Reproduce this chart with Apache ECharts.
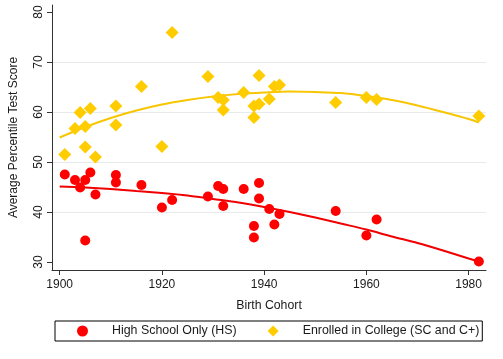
<!DOCTYPE html>
<html>
<head>
<meta charset="utf-8">
<script src="https://cdn.jsdelivr.net/npm/echarts@6/dist/echarts.min.js"></script>
<style>html,body{margin:0;padding:0;background:#fff}#c{width:503px;height:359px}</style>
</head>
<body>
<div id="c"></div>
<script>
var cohortYears = [1901,1903,1904,1905,1905,1906,1907,1911,1911,1916,1920,1922,1929,1931,1932,1932,1936,1938,1938,1939,1939,1941,1942,1943,1954,1960,1962,1982];
var hsScores = [47.5,46.4,44.9,46.4,34.3,47.9,43.5,47.4,45.9,45.4,40.9,42.4,43.1,45.2,44.6,41.2,44.6,37.2,34.9,45.8,42.7,40.6,37.5,39.6,40.2,35.3,38.5,30.1];
var collegeScores = [51.5,56.7,59.9,57.1,53.0,60.7,51.0,61.2,57.4,65.1,53.1,75.9,67.1,62.9,62.4,60.4,63.9,61.2,58.9,67.3,61.6,62.6,65.1,65.4,61.9,62.9,62.5,59.2];
var fitYears = [1900,1905,1910,1915,1920,1925,1930,1935,1940,1945,1950,1955,1960,1965,1970,1975,1980,1982];
var hsFit = [45.1,44.9,44.6,44.2,43.8,43.3,42.6,41.9,41.0,40.0,38.9,37.7,36.5,35.1,33.8,32.3,30.7,30.1];
var collegeFit = [54.9,57.0,58.8,60.3,61.5,62.4,63.1,63.6,63.9,64.1,64.0,63.8,63.2,62.4,61.3,60.0,58.6,57.9];
var xTicks = [1900,1920,1940,1960,1980];
var yTicks = [30,40,50,60,70,80];
var hsName = 'High School Only (HS)';
var collegeName = 'Enrolled in College (SC and C+)';

function pairs(xs, ys){ return xs.map(function(x,i){ return [x, ys[i]]; }); }

var font = 'Liberation Sans, Arial, sans-serif';
var chart = echarts.init(document.getElementById('c'), null, {renderer:'canvas'});
chart.setOption({
  animation: false,
  textStyle: {fontFamily: font, color: '#1a1a1a'},
  grid: {left: 52, right: 17, top: 5, bottom: 89, containLabel: false},
  xAxis: {
    type: 'value', min: 1898.5, max: 1983.4, minInterval: 20, maxInterval: 20,
    name: 'Birth Cohort', nameLocation: 'middle', nameGap: 30,
    nameTextStyle: {fontFamily: font, fontSize: 12.3, color: '#1a1a1a'},
    axisLine: {show: true, onZero: false, lineStyle: {color: '#333', width: 1}},
    axisTick: {show: true, length: 5, customValues: xTicks, lineStyle: {color: '#333'}},
    axisLabel: {customValues: xTicks, formatter: function(v){ return String(v); },
                fontFamily: font, fontSize: 12, color: '#1a1a1a', margin: 9},
    splitLine: {show: false}
  },
  yAxis: {
    type: 'value', min: 28.4, max: 81.4, minInterval: 10, maxInterval: 10,
    name: 'Average Percentile Test Score', nameLocation: 'middle', nameGap: 32,
    nameTextStyle: {fontFamily: font, fontSize: 12, color: '#1a1a1a'},
    axisLine: {show: true, onZero: false, lineStyle: {color: '#333', width: 1}},
    axisTick: {show: true, length: 5, customValues: yTicks, lineStyle: {color: '#333'}},
    axisLabel: {customValues: yTicks, formatter: function(v){ return String(v); }, rotate: 90,
                fontFamily: font, fontSize: 12, color: '#1a1a1a', margin: 7},
    splitLine: {show: true, showMinLine: false, showMaxLine: false, lineStyle: {color: '#e6eaea', width: 1}}
  },
  legend: {
    data: [hsName, collegeName],
    left: 55, top: 321,
    orient: 'horizontal',
    itemWidth: 11, itemHeight: 11, itemGap: 31,
    padding: [4, 3, 4, 22],
    borderColor: '#000', borderWidth: 1, borderRadius: 0,
    textStyle: {fontFamily: font, fontSize: 12.4, color: '#1a1a1a', padding: [0, 0, 0, 19]}
  },
  series: [
    {type: 'line', name: 'hsFit', data: pairs(fitYears, hsFit), smooth: 0.3, showSymbol: false, symbol: 'none',
     lineStyle: {color: '#f00000', width: 2}, z: 2, silent: true},
    {type: 'line', name: 'collegeFit', data: pairs(fitYears, collegeFit), smooth: 0.3, showSymbol: false, symbol: 'none',
     lineStyle: {color: '#f7c600', width: 2}, z: 2, silent: true},
    {type: 'scatter', name: hsName, data: pairs(cohortYears, hsScores), symbol: 'circle', symbolSize: 10, symbolKeepAspect: true,
     itemStyle: {color: '#ff0000', opacity: 1}, z: 3},
    {type: 'scatter', name: collegeName, data: pairs(cohortYears, collegeScores), symbol: 'diamond', symbolSize: 13, symbolKeepAspect: true,
     itemStyle: {color: '#ffcc00', opacity: 1}, z: 3}
  ]
});
</script>
</body>
</html>
